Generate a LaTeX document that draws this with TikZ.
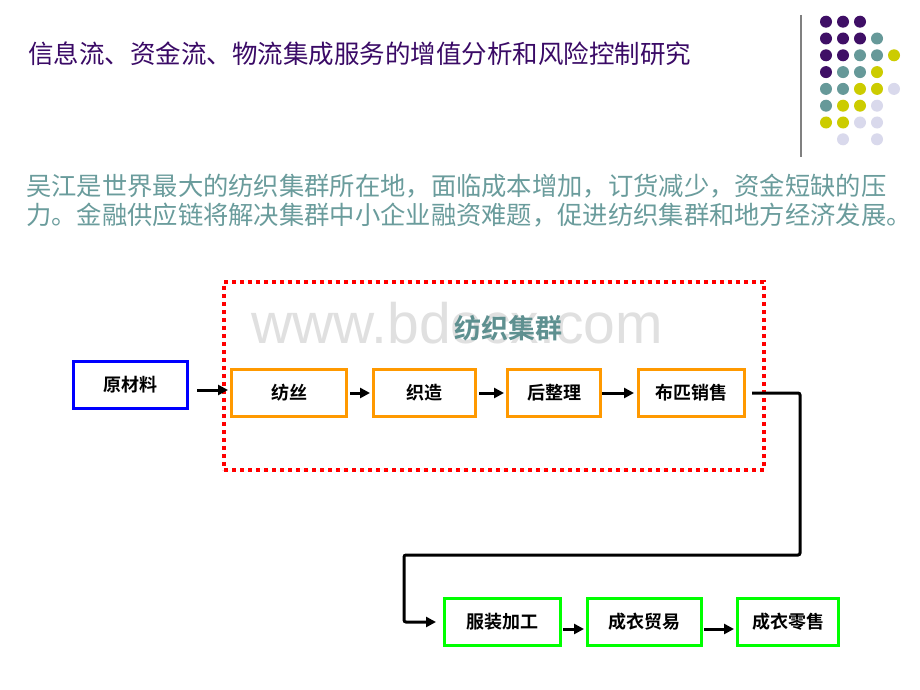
\documentclass[tikz,border=0pt]{standalone}
\usepackage{fontspec}
\setmainfont{Liberation Sans}
\newfontfamily\cjk{Noto Sans CJK SC}[BoldFont={Noto Sans CJK SC Bold}]
\usetikzlibrary{arrows.meta}
\definecolor{titlec}{HTML}{3A0A66}
\definecolor{dotp}{HTML}{3F0F66}
\definecolor{dott}{HTML}{669999}
\definecolor{doty}{HTML}{CCCC00}
\definecolor{dotl}{HTML}{D9D9EC}
\definecolor{paratext}{HTML}{6A9C9C}
\definecolor{orangeb}{HTML}{FF9900}
\definecolor{greenb}{HTML}{00FF00}
\definecolor{labelc}{HTML}{5E9090}
\definecolor{rulec}{HTML}{808080}
\begin{document}
\begin{tikzpicture}[x=1pt,y=-1pt,
  box/.style={draw, line width=3pt, inner sep=0pt, minimum height=47pt,
    font=\cjk\bfseries\fontsize{18}{20}\selectfont, text=black},
  obox/.style={box, draw=orangeb},
  gbox/.style={box, draw=greenb},
  bbox/.style={box, draw=blue},
  arr/.style={line width=3pt, -{Triangle[length=10pt,width=10pt]}},
  para/.style={anchor=west, inner sep=0pt, text=paratext, font=\cjk\fontsize{25.3}{28}\selectfont}]
\fill[white] (0,0) rectangle (920,690);
\useasboundingbox (0,0) rectangle (920,690);

% decorative rule and dots
\draw[line width=1.5pt, rulec] (801,15) -- (801,157);
\foreach \r/\cl in {1/{p,p,p},2/{p,p,p,t},3/{p,p,t,t,y},4/{p,t,t,y},5/{t,t,y,y,l},6/{t,y,y,l},7/{y,y,l,l}}{
  \foreach \c [count=\i] in \cl {
    \fill[dot\c] ({826+17*(\i-1)},{21.7+16.8*(\r-1)}) circle (6pt);
  }
}
\fill[dotl] (843,139.3) circle (6pt);
\fill[dotl] (877,139.3) circle (6pt);

% title and paragraph
\node[anchor=west, inner sep=0pt, text=titlec, font=\cjk\fontsize{25.5}{28}\selectfont] (title) at (28,54) {信息流、资金流、物流集成服务的增值分析和风险控制研究};
\node[para] (p1) at (26,186) {吴江是世界最大的纺织集群所在地，面临成本增加，订货减少，资金短缺的压};
\node[para] (p2) at (26,215) {力。金融供应链将解决集群中小企业融资难题，促进纺织集群和地方经济发展。};

% watermark
\node[anchor=base west, inner sep=0pt, text=black!12, font=\fontsize{57}{60}\selectfont] (wm) at (251,343) {www.bdocx.com};

% cluster region
\node[draw=red, line width=4pt, dash pattern=on 4pt off 4pt, minimum width=540pt, minimum height=188pt, inner sep=0pt] (region) at (494,376) {};
\node[inner sep=0pt, text=labelc, font=\cjk\bfseries\fontsize{27}{30}\selectfont] (cluster) at (508,328) {纺织集群};

% boxes
\node[bbox, minimum width=114pt] (yuan) at (130.5,385) {原材料};
\node[obox, minimum width=115pt] (fangsi) at (289,393) {纺丝};
\node[obox, minimum width=102pt] (zhizao) at (424.5,393) {织造};
\node[obox, minimum width=93pt] (hzl) at (554,393) {后整理};
\node[obox, minimum width=106pt] (bupi) at (691.5,393) {布匹销售};
\node[gbox, minimum width=116pt] (fz) at (502.5,622) {服装加工};
\node[gbox, minimum width=114pt] (my) at (644.5,622) {成衣贸易};
\node[gbox, minimum width=101pt] (ls) at (788,622) {成衣零售};

% connectors
\draw[arr, shorten <=8pt, shorten >=2pt] ([yshift=-5pt]yuan.east) -- ([yshift=-5pt]yuan.east -| fangsi.west);
\draw[arr, shorten <=2pt, shorten >=2pt] (fangsi.east) -- (zhizao.west);
\draw[arr, shorten <=2pt, shorten >=2pt] (zhizao.east) -- (hzl.west);
\draw[arr, shorten >=3pt] (hzl.east) -- (bupi.west);
\coordinate (c1) at (800,555);
\coordinate (c2) at (404,622);
\draw[arr, rounded corners=2pt, shorten <=6pt] (bupi.east) -| (c1) -| (c2) -- ([xshift=-7pt]fz.west);
\draw[arr, shorten <=1pt, shorten >=2pt] ([yshift=-7pt]fz.east) -- ([yshift=-7pt]fz.east -| my.west);
\draw[arr, shorten <=1pt, shorten >=2pt] ([yshift=-7pt]my.east) -- ([yshift=-7pt]my.east -| ls.west);
\end{tikzpicture}
\end{document}
